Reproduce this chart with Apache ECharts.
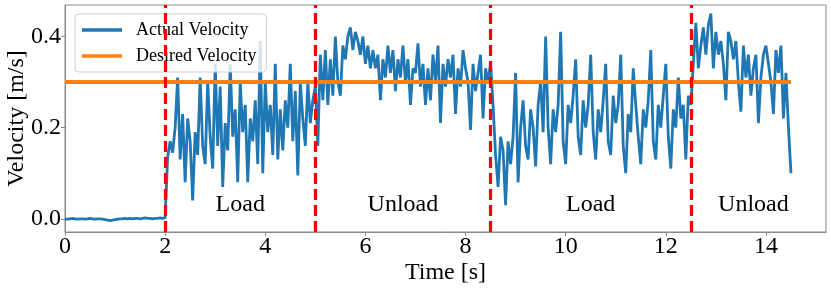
<!DOCTYPE html>
<html>
<head>
<meta charset="utf-8">
<script src="https://cdn.jsdelivr.net/npm/echarts@6/dist/echarts.min.js"></script>
<style>html,body{margin:0;padding:0;background:#fff;}#c{width:831px;height:289px;}</style>
</head>
<body>
<div id="c"></div>
<script>
// ---- data ----
const sampleStep = 0.05; // s between samples
const idle = [0.000,-0.001,0.000,0.001,0.000,-0.001,0.000,0.000,-0.001,0.000,
  0.001,0.000,-0.001,0.000,0.000,-0.001,-0.002,-0.003,-0.004,-0.003,
  -0.002,-0.001,0.000,0.000,0.001,0.000,0.001,0.000,0.001,0.001,
  0.000,0.001,0.002,0.001,0.001,0.000,0.001,0.001,0.002,0.001];
const load1 = [0.002,0.135,0.17,0.145,0.20,0.31,0.13,0.23,0.08,0.22,
  0.17,0.04,0.19,0.14,0.31,0.16,0.12,0.30,0.18,0.11,
  0.34,0.16,0.29,0.07,0.21,0.15,0.34,0.18,0.24,0.08,
  0.30,0.19,0.25,0.08,0.22,0.17,0.26,0.12,0.39,0.10,
  0.30,0.19,0.25,0.14,0.34,0.13,0.24,0.15,0.26,0.20,
  0.34,0.17,0.28,0.095,0.30,0.22,0.16,0.30,0.21,0.26,
  0.29];
const unload1 = [0.16,0.36,0.26,0.37,0.25,0.35,0.27,0.40,0.30,0.27,
  0.38,0.35,0.40,0.42,0.37,0.41,0.39,0.36,0.40,0.34,
  0.38,0.33,0.37,0.33,0.36,0.26,0.35,0.31,0.38,0.32,
  0.37,0.28,0.35,0.31,0.38,0.30,0.35,0.25,0.33,0.32,
  0.385,0.29,0.34,0.25,0.33,0.26,0.36,0.30,0.38,0.21,
  0.34,0.29,0.35,0.31,0.36,0.23,0.33,0.29,0.37,0.33,
  0.30,0.195,0.34,0.28,0.32,0.36,0.22,0.33,0.30,0.34];
const load2 = [0.25,0.14,0.07,0.18,0.15,0.03,0.17,0.12,0.18,0.32,
  0.08,0.20,0.26,0.16,0.13,0.24,0.20,0.115,0.25,0.30,
  0.19,0.40,0.20,0.12,0.24,0.19,0.25,0.41,0.17,0.12,
  0.25,0.21,0.27,0.35,0.18,0.14,0.26,0.20,0.25,0.36,
  0.19,0.13,0.24,0.19,0.26,0.34,0.17,0.14,0.27,0.21,
  0.25,0.36,0.16,0.10,0.23,0.19,0.33,0.25,0.18,0.12,
  0.24,0.20,0.26,0.37,0.17,0.13,0.25,0.20,0.27,0.34,
  0.18,0.11,0.24,0.20,0.31,0.22,0.25,0.13,0.27,0.25];
const unload2 = [0.34,0.43,0.33,0.38,0.42,0.36,0.425,0.45,0.33,0.41,
  0.36,0.39,0.34,0.26,0.41,0.39,0.35,0.39,0.30,0.235,
  0.38,0.31,0.36,0.27,0.33,0.36,0.21,0.31,0.36,0.38,
  0.34,0.30,0.23,0.37,0.32,0.38,0.22,0.32,0.20,0.10];
const desiredVelocity = 0.3;
const desiredSpan = [0, 14.5];
const phaseBoundaries = [2, 5, 8.5, 12.5];
const phaseLabels = ['Load', 'Unload', 'Load', 'Unload'];
const phaseLabelX = [3.5, 6.75, 10.5, 13.75];
const phaseLabelY = [0.031, 0.031, 0.031, 0.031];
const xTicks = [0, 2, 4, 6, 8, 10, 12, 14];
const yTicks = [0.0, 0.2, 0.4];

// ---- build ----
const velocity = idle.concat(load1, unload1, load2, unload2);
const actual = velocity.map((v, i) => [+(i * sampleStep).toFixed(2), v]);
const desired = desiredSpan.map(t => [t, desiredVelocity]);
const labelsData = phaseLabels.map((n, i) => ({ name: n, value: [phaseLabelX[i], phaseLabelY[i]] }));

const FONT = "'Liberation Serif', 'Times New Roman', serif";
const SPINE = '#8a8a8a';

const chart = echarts.init(document.getElementById('c'), null, { renderer: 'canvas' });
chart.setOption({
  animation: false,
  backgroundColor: '#fff',
  grid: { left: 65, right: 5, top: 5, bottom: 57, show: true, borderColor: SPINE, borderWidth: 1,
          containLabel: false, outerBoundsMode: 'none' },
  xAxis: {
    type: 'value', min: 0, max: 15.2,
    name: 'Time [s]', nameLocation: 'middle', nameGap: 29, nameMoveOverlap: false,
    nameTextStyle: { fontFamily: FONT, fontSize: 24, color: '#000' },
    axisLine: { show: true, onZero: false, lineStyle: { color: SPINE, width: 1 } },
    axisTick: { show: true, length: 4, lineStyle: { color: SPINE }, customValues: xTicks },
    axisLabel: { fontFamily: FONT, fontSize: 24, color: '#000', margin: 3, customValues: xTicks, formatter: v => String(v) },
    splitLine: { show: false }
  },
  yAxis: {
    type: 'value', min: -0.029, max: 0.469,
    name: 'Velocity [m/s]', nameLocation: 'middle', nameGap: 36, nameMoveOverlap: false,
    nameTextStyle: { fontFamily: FONT, fontSize: 24, color: '#000' },
    axisLine: { show: true, onZero: false, lineStyle: { color: SPINE, width: 1 } },
    axisTick: { show: true, length: 4, lineStyle: { color: SPINE }, customValues: yTicks },
    axisLabel: { fontFamily: FONT, fontSize: 24, color: '#000', margin: 4, customValues: yTicks, formatter: v => v.toFixed(1) },
    splitLine: { show: false }
  },
  legend: {
    show: true, orient: 'vertical', left: 75, top: 14,
    data: [{ name: 'Actual Velocity', icon: 'rect' }, { name: 'Desired Velocity', icon: 'rect' }],
    itemWidth: 40, itemHeight: 3.5, itemGap: 8,
    padding: [7, 10, 7, 7],
    backgroundColor: 'rgba(255,255,255,0.8)', borderColor: '#d0d0d0', borderWidth: 1, borderRadius: 4,
    textStyle: { fontFamily: FONT, fontSize: 18, color: '#000', padding: [0, 0, 0, 9] }
  },
  series: [
    {
      name: 'Actual Velocity', type: 'line', data: actual, showSymbol: false, symbol: 'none',
      lineStyle: { color: '#1f77b4', width: 2.8 }, itemStyle: { color: '#1f77b4' }, z: 2
    },
    {
      name: 'Desired Velocity', type: 'line', data: desired, showSymbol: false, symbol: 'none',
      lineStyle: { color: '#ff7f0e', width: 4 }, itemStyle: { color: '#ff7f0e' }, z: 3
    },
    {
      name: 'phases', type: 'scatter', data: labelsData, symbolSize: 0, z: 4, silent: true,
      itemStyle: { opacity: 1, color: '#000' },
      label: { show: true, position: 'inside', formatter: p => p.name, fontFamily: FONT, fontSize: 24,
               color: '#000', opacity: 1, textBorderWidth: 0 },
      markLine: {
        silent: true, symbol: 'none', animation: false,
        label: { show: false },
        lineStyle: { color: '#ff0000', width: 3.2, type: [11, 5], opacity: 1 },
        data: phaseBoundaries.map(x => ({ xAxis: x }))
      }
    }
  ]
});
</script>
</body>
</html>
